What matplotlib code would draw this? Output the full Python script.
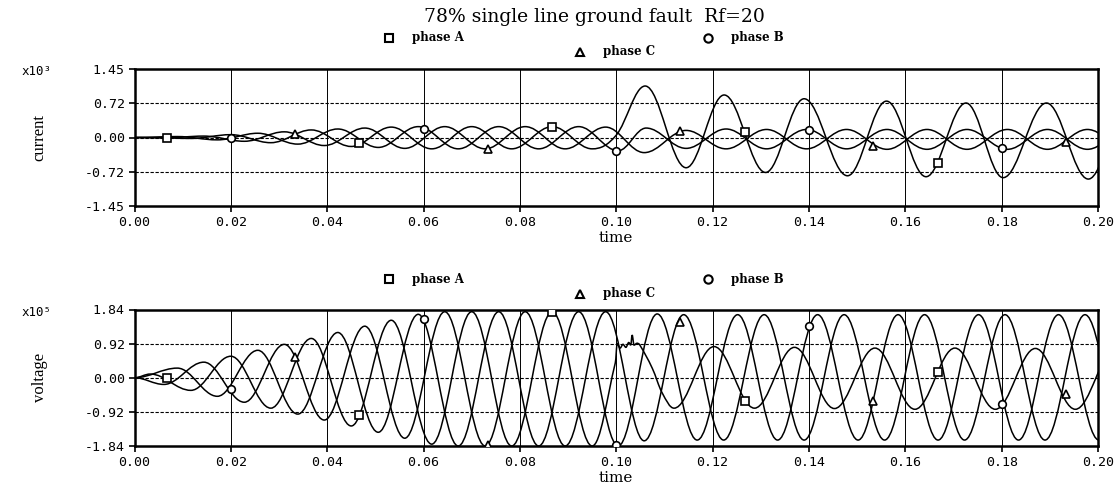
import numpy as np
import matplotlib
matplotlib.use("Agg")
import matplotlib.pyplot as plt
from matplotlib.path import Path
from matplotlib.patches import PathPatch
from matplotlib.lines import Line2D

# knots (extrema mostly), time in s
cur_a_t = [0.0, 0.0033, 0.0117, 0.0200, 0.0283, 0.0367, 0.0450, 0.0533, 0.0617, 0.0700, 0.0783,
           0.0867, 0.0950, 0.1000, 0.1060, 0.1145, 0.1224, 0.1310, 0.1390, 0.1480, 0.1561, 0.1643,
           0.1726, 0.1803, 0.1893, 0.1980, 0.2063]
cur_a_v = [0.0, 0.0, -0.02, 0.06, -0.11, 0.16, -0.19, 0.22, -0.24, 0.23, -0.24,
           0.23, -0.24, 0.05, 1.09, -0.64, 0.90, -0.74, 0.82, -0.81, 0.77, -0.83,
           0.73, -0.85, 0.73, -0.88, 0.72]
cur_b_t = [0.0, 0.0089, 0.0172, 0.0256, 0.0339, 0.0422, 0.0506, 0.0589, 0.0672, 0.0756, 0.0839,
           0.0922, 0.1004, 0.1062, 0.1145, 0.1228, 0.1312, 0.1395, 0.1478, 0.1562, 0.1645, 0.1728,
           0.1812, 0.1895, 0.1978, 0.2062]
cur_b_v = [0.0, 0.02, -0.05, 0.09, -0.14, 0.18, -0.21, 0.23, -0.24, 0.23, -0.24,
           0.23, -0.28, 0.20, -0.23, 0.18, -0.24, 0.17, -0.24, 0.17, -0.25, 0.17,
           -0.25, 0.17, -0.25, 0.17]
cur_c_t = [0.0, 0.0061, 0.0144, 0.0228, 0.0311, 0.0394, 0.0478, 0.0561, 0.0644, 0.0728, 0.0811,
           0.0894, 0.0978, 0.1058, 0.1145, 0.1228, 0.1312, 0.1395, 0.1478, 0.1562, 0.1645, 0.1728,
           0.1812, 0.1895, 0.1978, 0.2062]
cur_c_v = [0.0, -0.01, 0.03, -0.08, 0.12, -0.17, 0.20, -0.23, 0.23, -0.24, 0.23,
           -0.24, 0.22, -0.32, 0.15, -0.24, 0.17, -0.24, 0.17, -0.25, 0.17, -0.25,
           0.17, -0.25, 0.17, -0.25]

vol_a_t = [0.0, 0.0033, 0.0117, 0.0200, 0.0283, 0.0367, 0.0450, 0.0533, 0.0617, 0.0700, 0.0783,
           0.0867, 0.0950, 0.0998, 0.1002, 0.1008, 0.1014, 0.1020, 0.1026, 0.1030, 0.1033, 0.1037,
           0.1043, 0.1049, 0.1075, 0.1095, 0.1120, 0.1203, 0.1287, 0.1370, 0.1453, 0.1537, 0.1620,
           0.1703, 0.1787, 0.1870, 0.1953, 0.2037]
vol_a_v = [0.0, 0.10, -0.34, 0.58, -0.82, 1.06, -1.30, 1.55, -1.79, 1.78, -1.84,
           1.78, -1.84, 0.40, 0.92, 0.80, 0.90, 0.82, 0.95, 0.88, 1.15, 0.88,
           0.93, 0.88, 0.25, -0.40, -0.82, 0.84, -0.82, 0.82, -0.83, 0.80, -0.85,
           0.80, -0.85, 0.79, -0.85, 0.80]
vol_b_t = [0.0, 0.0089, 0.0172, 0.0256, 0.0339, 0.0422, 0.0506, 0.0589, 0.0672, 0.0756, 0.0839,
           0.0922, 0.1004, 0.1085, 0.1168, 0.1252, 0.1335, 0.1418, 0.1502, 0.1585, 0.1668, 0.1752,
           0.1835, 0.1918, 0.2002]
vol_b_v = [0.0, 0.26, -0.50, 0.74, -0.98, 1.22, -1.47, 1.71, -1.84, 1.78, -1.84,
           1.78, -1.84, 1.72, -1.68, 1.70, -1.68, 1.70, -1.68, 1.70, -1.68, 1.70,
           -1.68, 1.70, -1.68]
vol_c_t = [0.0, 0.0061, 0.0144, 0.0228, 0.0311, 0.0394, 0.0478, 0.0561, 0.0644, 0.0728, 0.0811,
           0.0894, 0.0978, 0.1058, 0.1140, 0.1223, 0.1307, 0.1390, 0.1473, 0.1557, 0.1640, 0.1723,
           0.1807, 0.1890, 0.1973, 0.2057]
vol_c_v = [0.0, -0.18, 0.42, -0.66, 0.90, -1.14, 1.39, -1.63, 1.78, -1.84, 1.78,
           -1.84, 1.78, -1.70, 1.70, -1.68, 1.70, -1.68, 1.70, -1.68, 1.70, -1.68,
           1.70, -1.68, 1.70, -1.68]

# marker positions
mark_a_t = [0.0067, 0.0467, 0.0867, 0.1267, 0.1667]
mark_b_t = [0.0200, 0.0600, 0.1000, 0.1400, 0.1800]
mark_c_t = [0.0333, 0.0733, 0.1133, 0.1533, 0.1933]
cur_mark_a = [-0.01, -0.12, 0.22, 0.12, -0.55]
cur_mark_b = [0.0, 0.17, -0.28, 0.16, -0.23]
cur_mark_c = [0.07, -0.24, 0.13, -0.17, -0.10]
vol_mark_a = [0.0, -1.0, 1.77, -0.62, 0.15]
vol_mark_b = [-0.30, 1.58, -1.80, 1.40, -0.72]
vol_mark_c = [0.55, -1.80, 1.50, -0.62, -0.45]

cur_ticks = [-1.45, -0.72, 0.0, 0.72, 1.45]
vol_ticks = [-1.84, -0.92, 0.0, 0.92, 1.84]
x_ticks = [0.0, 0.02, 0.04, 0.06, 0.08, 0.10, 0.12, 0.14, 0.16, 0.18, 0.20]

SERIF = "DejaVu Serif"
TIMES = "Liberation Serif"
TICKFONT = "DejaVu Sans Mono"


def wave(ts, vs, k=0.364):
    # smooth curve through the knots, flat at extrema
    n = len(ts)
    m = []
    for i in range(n):
        if i == 0 or i == n - 1:
            m.append(0.0)
            continue
        a, b = vs[i] - vs[i - 1], vs[i + 1] - vs[i]
        m.append(0.0 if a * b <= 0 else (vs[i + 1] - vs[i - 1]) / (ts[i + 1] - ts[i - 1]))
    verts = [(ts[0], vs[0])]
    codes = [Path.MOVETO]
    for i in range(n - 1):
        dt = ts[i + 1] - ts[i]
        verts += [(ts[i] + k * dt, vs[i] + m[i] * k * dt),
                  (ts[i + 1] - k * dt, vs[i + 1] - m[i + 1] * k * dt),
                  (ts[i + 1], vs[i + 1])]
        codes += [Path.CURVE4] * 3
    return PathPatch(Path(verts, codes), fill=False, edgecolor="black", lw=1.1)


W, H = 1118, 492
fig = plt.figure(figsize=(W / 100, H / 100), dpi=100)


def px(x, y):
    return x / W, 1 - y / H


def setup(ax, ticks, ylabel, power):
    ax.set_xlim(0, 0.2)
    ax.set_ylim(ticks[0], ticks[-1])
    ax.set_xticks(x_ticks)
    ax.set_xticklabels([f"{t:.2f}" for t in x_ticks], fontfamily=TICKFONT, fontsize=9.5)
    ax.set_yticks(ticks)
    ax.set_yticklabels([f"{t:.2f}" for t in ticks], fontfamily=TICKFONT, fontsize=9.5)
    ax.tick_params(direction="out", length=4, width=1.2, pad=3)
    for s in ax.spines.values():
        s.set_linewidth(1.8)
    for x in x_ticks[1:-1]:
        ax.axvline(x, color="black", lw=0.7, zorder=0)
    for y in ticks[1:-1]:
        ax.axhline(y, color="black", lw=0.8, ls=(0, (3, 1.5)), zorder=0)
    ax.set_xlabel("time", fontfamily=SERIF, fontsize=11, labelpad=2)
    ax.set_ylabel(ylabel, fontfamily=TIMES, fontsize=12)
    ax.yaxis.set_label_coords(-0.09, 0.5)
    ax.text(-0.117, 0.98, "x10" + power, transform=ax.transAxes, fontfamily=TICKFONT,
            fontsize=9, ha="left", va="center")


def legend(y1, y2):
    for (x, y, mk, lab) in [(389, y1, "s", "phase A"), (708, y1, "o", "phase B"),
                            (580, y2, "^", "phase C")]:
        fx, fy = px(x, y)
        fig.add_artist(Line2D([fx], [fy], marker=mk, ms=6, mfc="none", mec="black", mew=1.5,
                              transform=fig.transFigure))
        fig.text(fx + 23 / W, fy, lab, fontfamily=SERIF, fontweight="bold", fontsize=8.5,
                 ha="left", va="center")


ax1 = fig.add_axes([134.5 / W, 1 - 206 / H, (1098 - 134.5) / W, (206 - 69) / H])
for ts, vs in [(cur_a_t, cur_a_v), (cur_b_t, cur_b_v), (cur_c_t, cur_c_v)]:
    ax1.add_patch(wave(ts, vs))
for mk, vals, ts in [("s", cur_mark_a, mark_a_t), ("o", cur_mark_b, mark_b_t), ("^", cur_mark_c, mark_c_t)]:
    ax1.plot(ts, vals, ls="none", marker=mk, ms=5.5, mfc="white", mec="black", mew=1.2, zorder=5)
setup(ax1, cur_ticks, "current", "³")

ax2 = fig.add_axes([134.5 / W, 1 - 446 / H, (1098 - 134.5) / W, (446 - 309.5) / H])
for ts, vs in [(vol_a_t, vol_a_v), (vol_b_t, vol_b_v), (vol_c_t, vol_c_v)]:
    ax2.add_patch(wave(ts, vs))
for mk, vals, ts in [("s", vol_mark_a, mark_a_t), ("o", vol_mark_b, mark_b_t), ("^", vol_mark_c, mark_c_t)]:
    ax2.plot(ts, vals, ls="none", marker=mk, ms=5.5, mfc="white", mec="black", mew=1.2, zorder=5)
setup(ax2, vol_ticks, "voltage", "⁵")

fig.text(*px(594, 17), "78% single line ground fault  Rf=20", fontfamily=SERIF, fontsize=13.5,
         ha="center", va="center")
legend(38, 52)
legend(279, 294)

fig.savefig("out.png", dpi=100)
